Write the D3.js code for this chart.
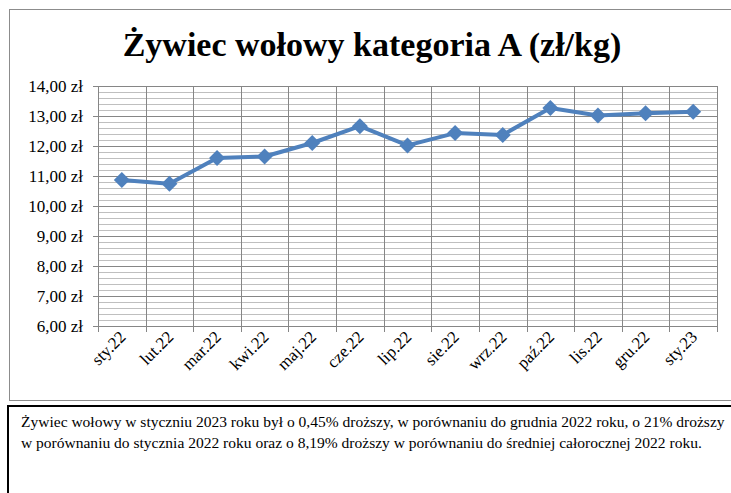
<!DOCTYPE html>
<html><head><meta charset="utf-8">
<script src="https://cdn.jsdelivr.net/npm/d3@7"></script>
<style>
body{margin:0;background:#fff;}
svg{display:block;}
text{font-family:"Liberation Serif","Times New Roman",Times,serif;fill:#000;}
</style>
</head><body>
<svg id="c" width="731" height="493"></svg>
<script>
const categories = ["sty.22","lut.22","mar.22","kwi.22","maj.22","cze.22","lip.22","sie.22","wrz.22","paź.22","lis.22","gru.22","sty.23"];
const values = [10.87,10.74,11.60,11.65,12.10,12.66,12.02,12.43,12.37,13.27,13.02,13.09,13.14];
const yTicks = [6,7,8,9,10,11,12,13,14];
const title = "Żywiec wołowy kategoria A (zł/kg)";
const noteLines = [
 "Żywiec wołowy w styczniu 2023 roku był o 0,45% droższy, w porównaniu do grudnia 2022 roku, o 21% droższy",
 "w porównaniu do stycznia 2022 roku oraz o 8,19%  droższy w porównaniu do średniej całorocznej 2022 roku."
];

const svg = d3.select("#c");
const L=98,R=717,T=86,B=326;

svg.append("rect").attr("x",9.5).attr("y",9.5).attr("width",740).attr("height",391)
  .attr("fill","#fff").attr("stroke","#8c8c8c").attr("stroke-width",1);

const x = d3.scaleBand().domain(categories).range([L,R]);
const y = d3.scaleLinear().domain([6,14]).range([B,T]);

const minor = d3.range(6,14.001,0.2).filter(v=>Math.abs(v-Math.round(v))>1e-6);
svg.append("g").selectAll("line").data(minor).join("line")
  .attr("x1",L).attr("x2",R).attr("y1",d=>Math.round(y(d))+0.5).attr("y2",d=>Math.round(y(d))+0.5)
  .attr("stroke","#bfbfbf").attr("stroke-width",1);
svg.append("g").selectAll("line").data(yTicks).join("line")
  .attr("x1",L-5).attr("x2",R).attr("y1",d=>Math.round(y(d))+0.5).attr("y2",d=>Math.round(y(d))+0.5)
  .attr("stroke","#868686").attr("stroke-width",1);
const bounds = categories.map(c=>x(c)).concat([R]);
svg.append("g").selectAll("line").data(bounds).join("line")
  .attr("x1",d=>Math.round(d)+0.5).attr("x2",d=>Math.round(d)+0.5).attr("y1",T).attr("y2",B+6)
  .attr("stroke","#868686").attr("stroke-width",1);

svg.append("g").selectAll("text").data(yTicks).join("text")
  .attr("x",83).attr("y",d=>y(d)+6).attr("text-anchor","end")
  .style("font-size","17px")
  .text(d=>d3.format(".2f")(d).replace(".",",")+" zł");

svg.append("g").selectAll("text").data(categories).join("text")
  .attr("transform",d=>"translate("+(x(d)+x.bandwidth()/2+5)+","+(B+12)+") rotate(-45)")
  .attr("text-anchor","end").style("font-size","17px")
  .text(d=>d);

const cx = d=>x(d)+x.bandwidth()/2;
svg.append("path").datum(values)
  .attr("d",d3.line().x((d,i)=>cx(categories[i])).y(d=>y(d)))
  .attr("fill","none").attr("stroke","#4f81bd").attr("stroke-width",4).attr("stroke-linejoin","round");
svg.append("g").selectAll("path").data(values).join("path")
  .attr("d",(d,i)=>{const px=cx(categories[i]),py=y(d);return `M${px},${py-8}L${px+8},${py}L${px},${py+8}L${px-8},${py}Z`;})
  .attr("fill","#4f81bd");

svg.append("text").attr("x",372).attr("y",56).attr("text-anchor","middle")
  .style("font-weight","bold").style("font-size","34px").text(title);

svg.append("rect").attr("x",8).attr("y",406).attr("width",740).attr("height",100)
  .attr("fill","#fff").attr("stroke","#000").attr("stroke-width",2);
const note = svg.append("g").selectAll("text").data(noteLines).join("text")
  .attr("x",21).attr("y",(d,i)=>427+i*21).style("font-size","16px")
  .text(d=>d);
// fit first line to the reference width (~704px)
const w0 = note.nodes()[0].getComputedTextLength();
const fs = Math.min(16, 16*704/w0);
note.style("font-size",fs+"px");
</script>
</body></html>
